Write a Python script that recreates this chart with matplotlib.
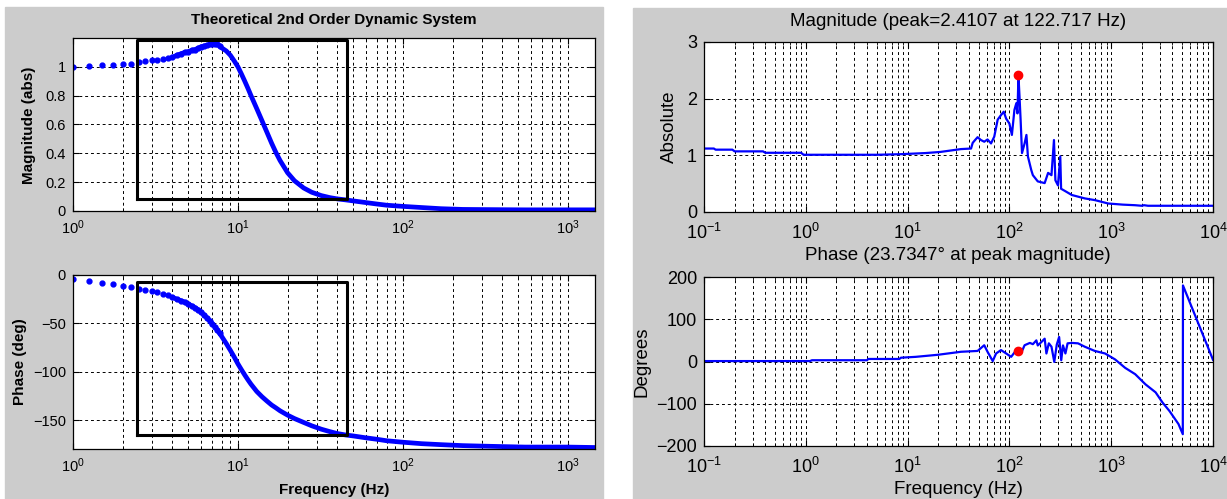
import matplotlib
matplotlib.use("Agg")
import matplotlib.pyplot as plt
from matplotlib.patches import Rectangle
from matplotlib.ticker import LogLocator, NullFormatter, FixedLocator

plt.rcParams['font.family'] = ['Liberation Sans', 'DejaVu Sans']
plt.rcParams['mathtext.fontset'] = 'custom'
plt.rcParams['mathtext.rm'] = 'Liberation Sans'
plt.rcParams['mathtext.it'] = 'Liberation Sans'

# ---------------- data: theoretical 2nd order system (left) ----------------
theory_freq = [1, 1.25, 1.5, 1.75, 2, 2.25, 2.5, 2.75, 3, 3.25, 3.5, 3.75, 4, 4.25,
               4.5, 4.75, 5, 5.25, 5.5, 5.75, 6, 6.25, 6.5, 6.75, 7, 7.25, 7.5, 7.75,
               8, 8.5, 9, 9.5, 10, 10.5, 11, 11.5, 12, 13, 14, 15, 16, 17, 18, 20,
               22, 25, 28, 32, 36, 40, 45, 50, 60, 70, 80, 100, 130, 170, 230, 300,
               400, 550, 750, 1000, 1500]
theory_mag = [1.00, 1.005, 1.01, 1.01, 1.02, 1.02, 1.035, 1.04, 1.045, 1.05, 1.055,
              1.06, 1.065, 1.08, 1.09, 1.10, 1.105, 1.115, 1.12, 1.13, 1.14, 1.145,
              1.15, 1.155, 1.16, 1.16, 1.155, 1.145, 1.13, 1.11, 1.08, 1.04, 1.00,
              0.95, 0.90, 0.85, 0.80, 0.71, 0.625, 0.545, 0.47, 0.405, 0.35, 0.265,
              0.21, 0.16, 0.13, 0.107, 0.093, 0.084, 0.077, 0.07, 0.058, 0.048,
              0.04, 0.032, 0.024, 0.016, 0.011, 0.01, 0.009, 0.008, 0.008, 0.008,
              0.008]
theory_phase = [-4.5, -6, -8, -9.5, -11, -12, -14, -15.5, -17, -18, -19.5, -21, -23,
                -25, -26.5, -28, -30, -32, -34, -36, -38.5, -41.5, -44.5, -47.5, -50.5,
                -53.5, -57, -60.5, -64, -71, -78, -85, -92, -98, -103.5, -108.5, -113,
                -120.5, -126, -130.5, -134.5, -137.5, -140.5, -145, -148.5, -152.5,
                -156, -159.5, -162, -164, -165.5, -166.5, -168.5, -170, -171.5, -173,
                -174.5, -175.5, -176.5, -177, -177.5, -178, -178, -178, -178.5]
box_freq = [2.45, 46]
box_mag = [0.083, 1.185]
box_phase = [-166, -7]

# ---------------- data: measured response (right) ----------------
meas_mag_freq = [0.1, 0.125, 0.13, 0.19, 0.2, 0.38, 0.4, 0.9, 0.95, 5, 8.5, 15, 21,
                 33.4, 42, 43.6, 46, 48.7, 52.5, 56.6, 61, 66, 71, 76.7, 82.7, 88,
                 92.8, 100, 105.8, 112, 117, 120, 122.717, 126, 129, 133, 141, 147,
                 152, 164, 170, 190, 222, 240, 259, 274, 283, 300, 316, 322, 360,
                 410, 550, 690, 935, 1300, 1710, 2000, 2100, 2300, 10000]
meas_mag = [1.12, 1.12, 1.10, 1.10, 1.07, 1.07, 1.045, 1.045, 1.01, 1.01, 1.02, 1.04,
            1.06, 1.11, 1.12, 1.22, 1.27, 1.32, 1.27, 1.24, 1.28, 1.21, 1.33, 1.63,
            1.71, 1.77, 1.65, 1.56, 1.36, 1.80, 1.92, 1.74, 2.4107, 2.0, 1.61, 1.04,
            1.21, 1.36, 0.98, 0.74, 0.65, 0.54, 0.51, 0.69, 0.65, 1.27, 0.56, 0.47,
            0.98, 0.41, 0.36, 0.30, 0.24, 0.21, 0.15, 0.13, 0.12, 0.11, 0.12, 0.11,
            0.11]
meas_phase_freq = [0.1, 1.1, 1.15, 4.0, 4.1, 8.3, 8.6, 12, 20, 33.4, 48.7, 56.6, 61,
                   68.6, 74, 82.7, 93, 104, 117, 122.717, 131, 141, 159, 170, 184,
                   190, 206, 222, 231, 244, 259, 276, 292, 308, 323, 336, 355, 373,
                   410, 472, 550, 690, 870, 1090, 1370, 1720, 2170, 2730, 3190, 3730,
                   4580, 5050, 5070, 10000]
meas_phase = [1, 1, 3, 3, 6, 6, 9, 11, 16, 23, 25, 38.5, 23, 1, 19, 27, 19, 11, 27,
              23.7347, 21, 38.5, 44, 41, 50, 38, 46, 54, 19, 43, 35, -1, 40, 58, 3, 38,
              19, 43, 44, 43, 35, 25, 19, 5, -15, -30, -54, -73, -97, -117, -148, -172,
              180, 4]
peak_freq = 122.717
peak_mag = 2.4107
peak_phase = 23.7347

# ---------------- layout ----------------
W, H = 1227, 499
fig = plt.figure(figsize=(W / 100, H / 100), dpi=100, facecolor='white')
GRAY = '#cccccc'
fig.add_artist(Rectangle((5 / W, 0), (603 - 5) / W, (H - 7) / H,
                         transform=fig.transFigure, color=GRAY, zorder=-10))
fig.add_artist(Rectangle((633 / W, 0), (W - 633) / W, (H - 8) / H,
                         transform=fig.transFigure, color=GRAY, zorder=-10))


def add_ax(x0, y0, x1, y1):
    return fig.add_axes([x0 / W, 1 - y1 / H, (x1 - x0) / W, (y1 - y0) / H])


def style(ax, fs, xpad):
    ax.set_xscale('log')
    ax.set_facecolor('white')
    ax.xaxis.set_major_locator(LogLocator(base=10, numticks=20))
    ax.xaxis.set_minor_locator(LogLocator(base=10, subs=range(2, 10), numticks=20))
    ax.xaxis.set_minor_formatter(NullFormatter())
    grid_kw = dict(color='black', linestyle=(0, (3, 3)), linewidth=0.7)
    ax.grid(True, which='both', axis='x', **grid_kw)
    ax.grid(True, which='major', axis='y', **grid_kw)
    ax.set_axisbelow(True)
    ax.tick_params(which='both', direction='in', top=True, right=True,
                   labelsize=fs, colors='black', pad=5)
    ax.tick_params(axis='x', which='major', pad=xpad)
    ax.tick_params(which='major', length=4)
    ax.tick_params(which='minor', length=2)
    for s in ax.spines.values():
        s.set_linewidth(0.9)


BLUE = '#0000ff'
LFS = 10.5
RFS = 13

# left top: magnitude
ax1 = add_ax(73, 38, 595, 211)
style(ax1, LFS, 5)
ax1.plot(theory_freq[12:], theory_mag[12:], color=BLUE, lw=3.4, solid_capstyle='round',
         solid_joinstyle='round')
ax1.plot(theory_freq[:28], theory_mag[:28], '.', color=BLUE, ms=7)
ax1.plot([box_freq[0], box_freq[1], box_freq[1], box_freq[0], box_freq[0]],
         [box_mag[0], box_mag[0], box_mag[1], box_mag[1], box_mag[0]],
         color='black', lw=2.2)
ax1.set_xlim(1, 1460)
ax1.set_ylim(0, 1.2)
ax1.yaxis.set_major_locator(FixedLocator([0, 0.2, 0.4, 0.6, 0.8, 1]))
ax1.set_yticklabels(['0', '0.2', '0.4', '0.6', '0.8', '1'])

# left bottom: phase
ax2 = add_ax(73, 275, 595, 449)
style(ax2, LFS, 5)
ax2.plot(theory_freq[12:], theory_phase[12:], color=BLUE, lw=3.4, solid_capstyle='round',
         solid_joinstyle='round')
ax2.plot(theory_freq[:28], theory_phase[:28], '.', color=BLUE, ms=7)
ax2.plot([box_freq[0], box_freq[1], box_freq[1], box_freq[0], box_freq[0]],
         [box_phase[0], box_phase[0], box_phase[1], box_phase[1], box_phase[0]],
         color='black', lw=2.2)
ax2.set_xlim(1, 1460)
ax2.set_ylim(-180, 0)
ax2.yaxis.set_major_locator(FixedLocator([-150, -100, -50, 0]))

# right top: measured magnitude
ax3 = add_ax(704, 42, 1213, 212)
style(ax3, RFS, 8)
ax3.plot(meas_mag_freq, meas_mag, color=BLUE, lw=1.6)
ax3.plot([peak_freq], [peak_mag], 'o', color='red', ms=6)
ax3.set_xlim(0.1, 10000)
ax3.set_ylim(0, 3)
ax3.yaxis.set_major_locator(FixedLocator([0, 1, 2, 3]))

# right bottom: measured phase
ax4 = add_ax(704, 277, 1213, 446)
style(ax4, RFS, 8)
ax4.plot(meas_phase_freq, meas_phase, color=BLUE, lw=1.6)
ax4.plot([peak_freq], [peak_phase], 'o', color='red', ms=6)
ax4.set_xlim(0.1, 10000)
ax4.set_ylim(-200, 200)
ax4.yaxis.set_major_locator(FixedLocator([-200, -100, 0, 100, 200]))

# ---------------- texts ----------------
def ftext(x, y, s, **kw):
    fig.text(x / W, 1 - y / H, s, ha='center', va='center', **kw)

ftext(334, 20, 'Theoretical 2nd Order Dynamic System', fontsize=11, fontweight='bold')
ftext(29, 125, 'Magnitude (abs)', fontsize=11, fontweight='bold', rotation=90)
ftext(20, 362, 'Phase (deg)', fontsize=11, fontweight='bold', rotation=90)
ftext(334, 490, 'Frequency (Hz)', fontsize=11, fontweight='bold')

ftext(958, 22, 'Magnitude (peak=2.4107 at 122.717 Hz)', fontsize=13.5)
ftext(958, 255, 'Phase (23.7347\u00b0 at peak magnitude)', fontsize=13.5)
ftext(669, 127, 'Absolute', fontsize=13.5, rotation=90)
ftext(642, 362, 'Degrees', fontsize=13.5, rotation=90)
ftext(958, 490, 'Frequency (Hz)', fontsize=13.5)

fig.savefig('out.png', dpi=100, facecolor='white')
